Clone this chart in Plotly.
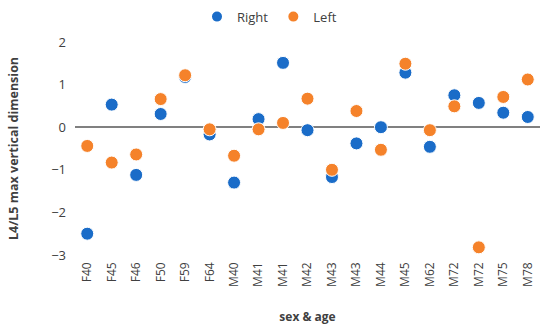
import plotly.graph_objects as go

categories = ["F40", "F45", "F46", "F50", "F59", "F64", "M40", "M41", "M41", "M42",
              "M43", "M43", "M44", "M45", "M62", "M72", "M72", "M75", "M78"]
right = [-2.50, 0.53, -1.12, 0.31, 1.18, -0.17, -1.30, 0.19, 1.51, -0.07,
         -1.17, -0.38, 0.00, 1.28, -0.46, 0.75, 0.57, 0.34, 0.24]
left = [-0.44, -0.83, -0.64, 0.66, 1.22, -0.05, -0.67, -0.05, 0.10, 0.67,
        -1.00, 0.38, -0.53, 1.49, -0.07, 0.49, -2.82, 0.71, 1.12]
y_ticks = [-3, -2, -1, 0, 1, 2]

xpos = list(range(len(categories)))

fig = go.Figure()
fig.add_trace(go.Scatter(x=xpos, y=right, mode="markers", name="Right",
                         marker=dict(color="#1a6cc8", size=13,
                                     line=dict(color="white", width=1)),
                         cliponaxis=False))
fig.add_trace(go.Scatter(x=xpos, y=left, mode="markers", name="Left",
                         marker=dict(color="#f5822a", size=13,
                                     line=dict(color="white", width=1)),
                         cliponaxis=False))

font_family = "Open Sans, Liberation Sans, sans-serif"
fig.update_layout(
    width=550, height=332,
    margin=dict(l=75, r=10, t=42, b=77, autoexpand=False),
    plot_bgcolor="white", paper_bgcolor="white",
    font=dict(family=font_family, color="#404040"),
    showlegend=True,
    legend=dict(orientation="h", x=0.49, xanchor="center", xref="container",
                y=0.995, yanchor="top", yref="container",
                font=dict(size=13, color="#404040"),
                itemsizing="constant", traceorder="normal"),
    xaxis=dict(
        tickmode="array", tickvals=xpos, ticktext=categories,
        tickangle=-90, range=[-0.5, len(categories) - 0.5],
        showgrid=False, zeroline=False, showline=False,
        ticklabelstandoff=4,
        tickfont=dict(size=12, color="#404040"),
        title=dict(text="<b>sex & age</b>", font=dict(size=12, color="#404040"), standoff=26),
    ),
    yaxis=dict(
        tickmode="array", tickvals=y_ticks, range=[-3, 2],
        showgrid=False, zeroline=True, zerolinecolor="#808080", zerolinewidth=1.5,
        showline=False, tickfont=dict(size=13, color="#404040"),
        ticklabelstandoff=8,
        title=dict(text="<b>L4/L5 max vertical dimension</b>", font=dict(size=12.5, color="#404040"),
                   standoff=29),
    ),
)

fig.write_html("out.html", config={"displayModeBar": False},
               post_script="document.body.style.margin='0';")
